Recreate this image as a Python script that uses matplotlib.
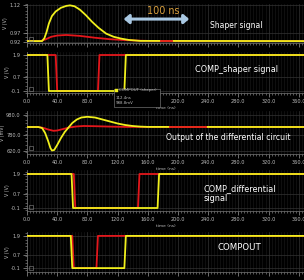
import matplotlib
matplotlib.use("Agg")
import matplotlib.pyplot as plt
from matplotlib.patches import Rectangle, FancyArrowPatch
from matplotlib.ticker import MultipleLocator, FixedLocator

W, H = 304, 280

# ---------------- data ----------------
# Panel 1: shaper signal (V)
sh_t_y = [0, 20, 23, 26, 29, 33, 38, 45, 52, 57, 63, 70, 78, 86, 95, 105, 115, 125, 135, 150, 366]
sh_v_y = [0.925, 0.925, 0.94, 0.975, 1.02, 1.06, 1.085, 1.105, 1.115, 1.118, 1.113, 1.095, 1.065,
          1.03, 0.996, 0.965, 0.948, 0.938, 0.931, 0.926, 0.925]
sh_t_r = [0, 18, 25, 32, 40, 52, 70, 90, 110, 130, 150, 170, 366]
sh_v_r = [0.925, 0.925, 0.935, 0.948, 0.955, 0.958, 0.953, 0.943, 0.935, 0.930, 0.927, 0.925, 0.925]
sh_red_overlay_t = [178, 192]
sh_red_overlay_v = [0.925, 0.925]
sh_yticks = [0.92, 0.97, 1.12]
sh_ylabels = ["0.92", "0.97", "1.12"]

# Panel 2: COMP_shaper (V)
cs_t_y = [0, 27, 29, 129, 131, 366]
cs_v_y = [1.9, 1.9, -0.1, -0.1, 1.9, 1.9]
cs_t_r = [0, 38, 40, 94, 96, 366]
cs_v_r = [1.9, 1.9, -0.1, -0.1, 1.9, 1.9]

# Panel 3: differential output (mV)
df_t_y = [0, 15, 20, 24, 28, 31, 33, 36, 40, 45, 50, 55, 60, 66, 72, 80, 90, 100, 110, 120, 130,
          140, 150, 160, 366]
df_v_y = [860, 860, 850, 800, 720, 650, 625, 630, 680, 750, 810, 855, 900, 935, 955, 962, 955,
          935, 915, 895, 880, 870, 864, 861, 860]
df_t_r = [0, 15, 22, 28, 35, 40, 48, 56, 65, 75, 90, 110, 130, 366]
df_v_r = [860, 860, 850, 835, 822, 825, 840, 855, 865, 870, 868, 864, 861, 860]
df_red_overlay_t = [190, 237]
df_red_overlay_v = [860, 860]
df_yticks = [620, 780, 980]
df_ylabels = ["620.0", "780.0", "980.0"]

# Panel 4: COMP_differential (V)
cd_t_y = [0, 59, 61, 173, 175, 366]
cd_v_y = [1.9, 1.9, -0.1, -0.1, 1.9, 1.9]
cd_t_r = [0, 62, 64, 147, 149, 366]
cd_v_r = [1.9, 1.9, -0.1, -0.1, 1.9, 1.9]

# Panel 5: COMPOUT (V)
co_t_y = [0, 58, 60, 129, 131, 366]
co_v_y = [1.9, 1.9, -0.1, -0.1, 1.9, 1.9]
co_t_r = [0, 60, 62, 92, 94, 366]
co_v_r = [1.9, 1.9, -0.1, -0.1, 1.9, 1.9]

dig_yticks = [-0.1, 0.7, 1.9]
dig_ylabels = ["-0.1", "0.7", "1.9"]

# ---------------- style ----------------
YEL = "#f0ef1c"
RED = "#e3161b"
GRID = "#333333"
TXT = "#bdbdbd"
LW = 1.3

fig = plt.figure(figsize=(W / 100, H / 100), dpi=100, facecolor="black")


def px(x, y):
    return x / W, 1 - y / H


def make_ax(top, bottom, ylim, yticks, ylabels, ylabel, show_xlabels):
    l = 27 / W
    ax = fig.add_axes([l, 1 - bottom / H, 1 - l, (bottom - top) / H])
    ax.set_facecolor("black")
    ax.set_xlim(0, 367)
    ax.set_ylim(*ylim)
    ax.xaxis.set_major_locator(MultipleLocator(40))
    ax.xaxis.set_minor_locator(MultipleLocator(4))
    ax.yaxis.set_major_locator(FixedLocator(yticks))
    ax.set_yticklabels(ylabels)
    ax.grid(True, which="major", color=GRID, lw=0.5)
    ax.grid(True, which="minor", axis="x", color="#1c1c1c", lw=0.4)
    for s in ["top", "right"]:
        ax.spines[s].set_visible(False)
    for s in ["left", "bottom"]:
        ax.spines[s].set_color("#777777")
        ax.spines[s].set_linewidth(0.5)
    ax.tick_params(axis="both", which="major", colors="#9a9a9a", labelcolor=TXT,
                   labelsize=3.6, length=3, width=0.5, pad=1.5, direction="out")
    ax.tick_params(axis="both", which="minor", colors="#9a9a9a", length=1.5, width=0.4,
                   direction="out")
    ax.yaxis.set_minor_locator(MultipleLocator((ylim[1] - ylim[0]) / 12))
    if show_xlabels:
        ax.xaxis.set_major_formatter(plt.FormatStrFormatter("%.1f"))
        ax.set_xlabel("time (ns)", fontsize=3.2, color=TXT, labelpad=1)
    else:
        ax.set_xticklabels([])
    ax.set_ylabel(ylabel, fontsize=3.4, color=TXT, labelpad=1)
    return ax


# Panel 1
ax1 = make_ax(4, 43, (0.9146, 1.1254), sh_yticks, sh_ylabels, "V (V)", False)
ax1.plot(sh_t_r, sh_v_r, color=RED, lw=LW, zorder=3)
ax1.plot(sh_t_y, sh_v_y, color=YEL, lw=LW, zorder=4)
ax1.plot(sh_red_overlay_t, sh_red_overlay_v, color=RED, lw=LW, zorder=5)
arr = FancyArrowPatch((124.5, 1.044), (218.5, 1.044), arrowstyle="<|-|>,head_length=3,head_width=2.6",
                      color="#a9c8e2", lw=2.2, mutation_scale=1, zorder=6)
ax1.add_patch(arr)
fig.text(*px(163, 11), "100 ns", color="#dba03c", fontsize=6.9, ha="center", va="center")
fig.text(*px(210, 25), "Shaper signal", color="white", fontsize=5.5, ha="left", va="center")

# Panel 2
ax2 = make_ax(52, 93, (-0.211, 2.067), dig_yticks, dig_ylabels, "V (V)", True)
ax2.plot(cs_t_r, cs_v_r, color=RED, lw=LW, zorder=3)
ax2.plot(cs_t_y, cs_v_y, color=YEL, lw=LW, zorder=4)
fig.canvas.draw()
for lab in ax2.get_xticklabels():
    if lab.get_text() == "120.0":
        lab.set_visible(False)
fig.text(*px(195, 69), "COMP_shaper signal", color="white", fontsize=5.9, ha="left", va="center")

# Panel 3
ax3 = make_ax(111, 154, (590, 1020), df_yticks, df_ylabels, "V (mV)", True)
ax3.plot(df_t_r, df_v_r, color=RED, lw=LW, zorder=3)
ax3.plot(df_t_y, df_v_y, color=YEL, lw=LW, zorder=4)
ax3.plot(df_red_overlay_t, df_red_overlay_v, color=RED, lw=LW, zorder=5)
fig.text(*px(166, 137), "Output of the differential circuit", color="white", fontsize=5.6,
         ha="left", va="center")

# Panel 4
ax4 = make_ax(170, 211, (-0.276, 2.135), dig_yticks, dig_ylabels, "V (V)", True)
ax4.plot(cd_t_r, cd_v_r, color=RED, lw=LW, zorder=3)
ax4.plot(cd_t_y, cd_v_y, color=YEL, lw=LW, zorder=4)
fig.text(*px(204, 189), "COMP_differential", color="white", fontsize=5.9, ha="left", va="center")
fig.text(*px(204, 198.5), "signal", color="white", fontsize=5.9, ha="left", va="center")

# Panel 5
ax5 = make_ax(232, 272, (-0.342, 2.142), dig_yticks, dig_ylabels, "V (V)", False)
ax5.plot(co_t_r, co_v_r, color=RED, lw=LW, zorder=3)
ax5.plot(co_t_y, co_v_y, color=YEL, lw=LW, zorder=4)
fig.text(*px(218, 248), "COMPOUT", color="white", fontsize=6.2, ha="left", va="center")

# small corner icons
for yb in [41, 91, 150, 209, 270]:
    x0, y0 = px(29, yb)
    fig.patches.append(Rectangle((x0, y0), 4 / W, 4 / H, transform=fig.transFigure,
                                 fill=False, ec="#8a8a8a", lw=0.4, zorder=10))

# tooltip box in panel 2
bx, by = px(114, 107)
fig.patches.append(Rectangle((bx, by), 46 / W, 18 / H, transform=fig.transFigure,
                             fc="black", ec="#8a8a8a", lw=0.4, zorder=20))
sx, sy = px(115, 92)
fig.patches.append(Rectangle((sx, sy), 3 / W, 3 / H, transform=fig.transFigure,
                             fc=YEL, ec=YEL, lw=0.3, zorder=21))
fig.text(*px(119, 90.5), "COMPOUT (shaper)", color=TXT, fontsize=2.8, ha="left", va="center", zorder=22)
fig.text(*px(116, 98), "112.4ns", color=TXT, fontsize=2.8, ha="left", va="center", zorder=22)
fig.text(*px(116, 103), "988.8mV", color=TXT, fontsize=2.8, ha="left", va="center", zorder=22)

fig.savefig("out.png", dpi=100, facecolor="black")
